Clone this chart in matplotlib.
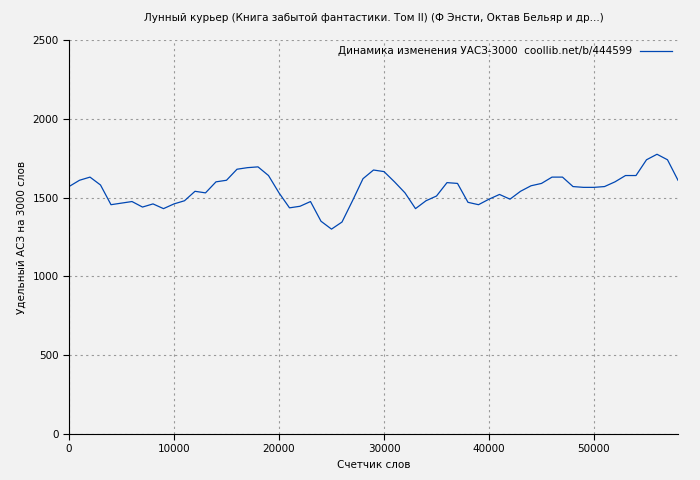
import matplotlib
matplotlib.use("Agg")
import matplotlib.pyplot as plt

words = list(range(0, 59000, 1000))
values = [1570,1610,1630,1580,1455,1465,1475,1440,1460,1430,1460,1480,1540,1530,1600,1610,
          1680,1690,1695,1640,1530,1435,1445,1475,1350,1300,1345,1480,1620,1675,1665,1600,
          1530,1430,1480,1510,1595,1590,1470,1455,1490,1520,1490,1540,1575,1590,1630,1630,
          1570,1565,1565,1570,1600,1640,1640,1740,1775,1740,1610]
xticks = [0, 10000, 20000, 30000, 40000, 50000]
yticks = [0, 500, 1000, 1500, 2000, 2500]

fig = plt.figure(figsize=(7, 4.8), dpi=100, facecolor='#f2f2f2')
ax = fig.add_axes([69/700, 46/480, 609/700, 394/480])
ax.set_facecolor('#f2f2f2')
ax.plot(words, values, color='#0047b3', lw=0.9, label='Динамика изменения УАСЗ-3000  coollib.net/b/444599')
ax.set_xlim(0, 58000)
ax.set_ylim(0, 2500)
ax.set_xticks(xticks)
ax.set_yticks(yticks)
ax.grid(True, color='#999999', linestyle=(0, (2, 3)), lw=0.8)
for s in ['top', 'right']:
    ax.spines[s].set_visible(False)
ax.tick_params(labelsize=7.5, length=4)
ax.set_xlabel('Счетчик слов', fontsize=7.5)
ax.set_ylabel('Удельный АСЗ на 3000 слов', fontsize=7.5)
ax.set_title('Лунный курьер (Книга забытой фантастики. Том II) (Ф Энсти, Октав Бельяр и др...)', fontsize=7.5, pad=14)
ax.legend(loc='upper right', fontsize=7.5, frameon=False, markerfirst=False, handlelength=3,
          borderaxespad=0.2)
fig.savefig('out.png', dpi=100, facecolor=fig.get_facecolor())
